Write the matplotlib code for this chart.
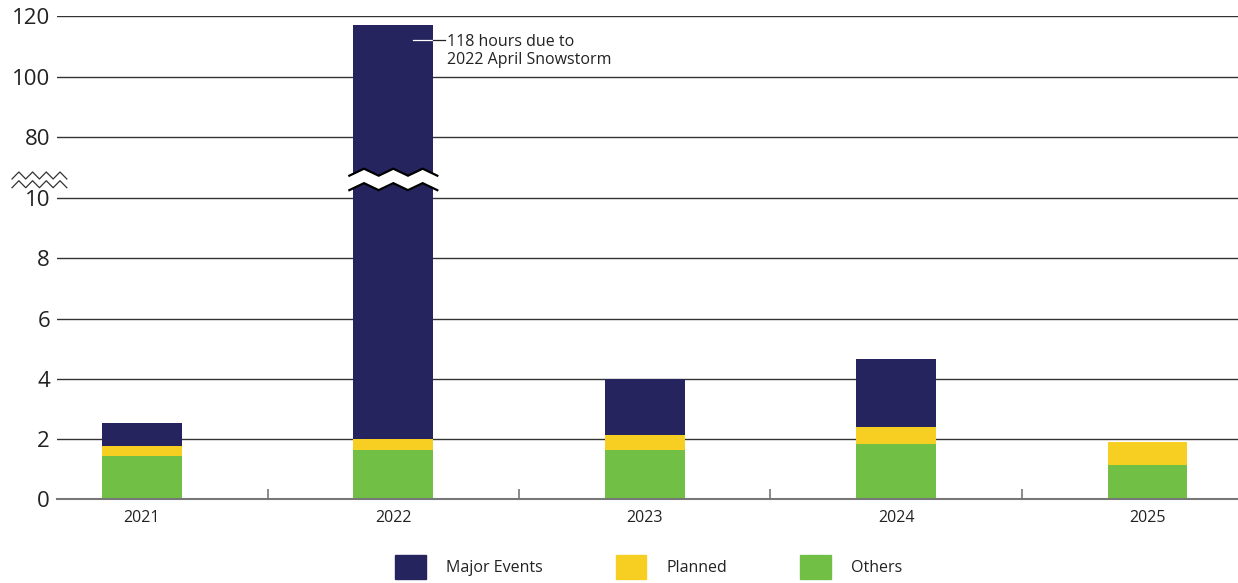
import numpy as np
import matplotlib
matplotlib.use("Agg")
import matplotlib.pyplot as plt
from matplotlib.patches import Patch
from matplotlib.transforms import blended_transform_factory

plt.rcParams["font.family"] = ["Open Sans", "DejaVu Sans"]

# data (hours)
years = ["2021", "2022", "2023", "2024", "2025"]
others = np.array([1.43, 1.63, 1.63, 1.83, 1.13])
planned = np.array([0.34, 0.37, 0.50, 0.57, 0.77])
major = np.array([0.76, 115.2, 1.86, 2.27, 0.0])
y_ticks = [0, 2, 4, 6, 8, 10, 80, 100, 120]
note = "118 hours due to\n2022 April Snowstorm"
note_value = 112.2

NAVY = "#25245e"
YELLOW = "#f6cf22"
GREEN = "#71bf45"


# broken axis: 0-10 linear, 10-60 squeezed, 60+ compressed by 10x
def forward(v):
    v = np.asarray(v, dtype=float)
    return np.where(v <= 10, v,
                    np.where(v <= 60, 10 + (v - 10) * 0.001,
                             10.05 + (v - 60) / 10))


def inverse(p):
    p = np.asarray(p, dtype=float)
    return np.where(p <= 10, p,
                    np.where(p <= 10.05, 10 + (p - 10) / 0.001,
                             60 + (p - 10.05) * 10))


def zigzag(x0, x1, y0, amp, humps):
    n = humps * 2 + 1
    xs = np.linspace(x0, x1, n)
    ys = np.array([y0 + (amp if i % 2 else 0) for i in range(n)])
    return xs, ys


fig = plt.figure(figsize=(12.38, 5.83), dpi=100)
ax = fig.add_axes([0.046, 0.1441, 0.954, 0.8277])
ax.set_yscale("function", functions=(forward, inverse))

x = np.arange(len(years))
w = 0.318
ax.bar(x, others, width=w, color=GREEN, linewidth=0, zorder=2)
ax.bar(x, planned, width=w, bottom=others, color=YELLOW, linewidth=0, zorder=2)
ax.bar(x, major, width=w, bottom=others + planned, color=NAVY,
       linewidth=0, zorder=2)

ax.set_ylim(0, 120)
ax.set_xlim(-0.338, 4.36)
ax.set_yticks(y_ticks)
ax.set_yticklabels([str(t) for t in y_ticks], fontsize=16, color="#222222")
ax.set_xticks(x)
ax.set_xticklabels(years, fontsize=11.5, color="#222222")
ax.set_xticks(x[:-1] + 0.5, minor=True)
ax.tick_params(axis="y", length=0, pad=5)
ax.tick_params(axis="x", which="major", length=0, pad=8)
ax.tick_params(axis="x", which="minor", direction="in", length=7,
               width=1.2, color="#777777")
ax.grid(axis="y", color="#333333", linewidth=1, zorder=0)
ax.set_axisbelow(True)
for side in ["top", "right", "left"]:
    ax.spines[side].set_visible(False)
ax.spines["bottom"].set_color("#777777")
ax.spines["bottom"].set_linewidth(1.5)
ax.spines["bottom"].set_zorder(3)

# break marks on the 2022 bar
big = int(np.argmax(major))
tr = blended_transform_factory(ax.transData, ax.transAxes)
pad = 0.016
zx0, zx1 = big - w / 2 - pad, big + w / 2 + pad
amp = 0.0145
xs, top = zigzag(zx0, zx1, 0.670, amp, 3)
_, bot = zigzag(zx0, zx1, 0.640, amp, 3)
ax.fill_between(xs, bot, top, color="white", transform=tr, zorder=4,
                linewidth=0)
ax.plot(xs, top, color="black", lw=1.6, transform=tr, zorder=5,
        solid_joinstyle="miter")
ax.plot(xs, bot, color="black", lw=1.6, transform=tr, zorder=5,
        solid_joinstyle="miter")

# break marks on the y axis
for base in [0.693, 0.678]:
    lx, ly = zigzag(0.0097, 0.054, base, 0.012, 4)
    fig.add_artist(plt.Line2D(lx, ly, color="#333333", lw=0.9,
                              transform=fig.transFigure))

# annotation
lx0 = big + 0.08
lx_edge = big + w / 2
lx1 = big + 0.207
ax.plot([lx0, lx_edge], [note_value, note_value], color="white", lw=0.9,
        zorder=6)
ax.plot([lx_edge, lx1], [note_value, note_value], color="#222222", lw=0.9,
        zorder=6)
ax.annotate(note, xy=(lx1, note_value), xytext=(1.5, 4.5),
            textcoords="offset points", ha="left", va="top",
            fontsize=11.5, color="#222222", linespacing=1.2)

handles = [Patch(color=NAVY, label="Major Events"),
           Patch(color=YELLOW, label="Planned"),
           Patch(color=GREEN, label="Others")]
fig.legend(handles=handles, loc="center", bbox_to_anchor=(0.524, 0.027),
           ncol=3, frameon=False, fontsize=11.5, handlelength=1.9,
           handleheight=1.9, handletextpad=1.25, columnspacing=4.6,
           labelcolor="#222222")

fig.savefig("out.png", dpi=100)
